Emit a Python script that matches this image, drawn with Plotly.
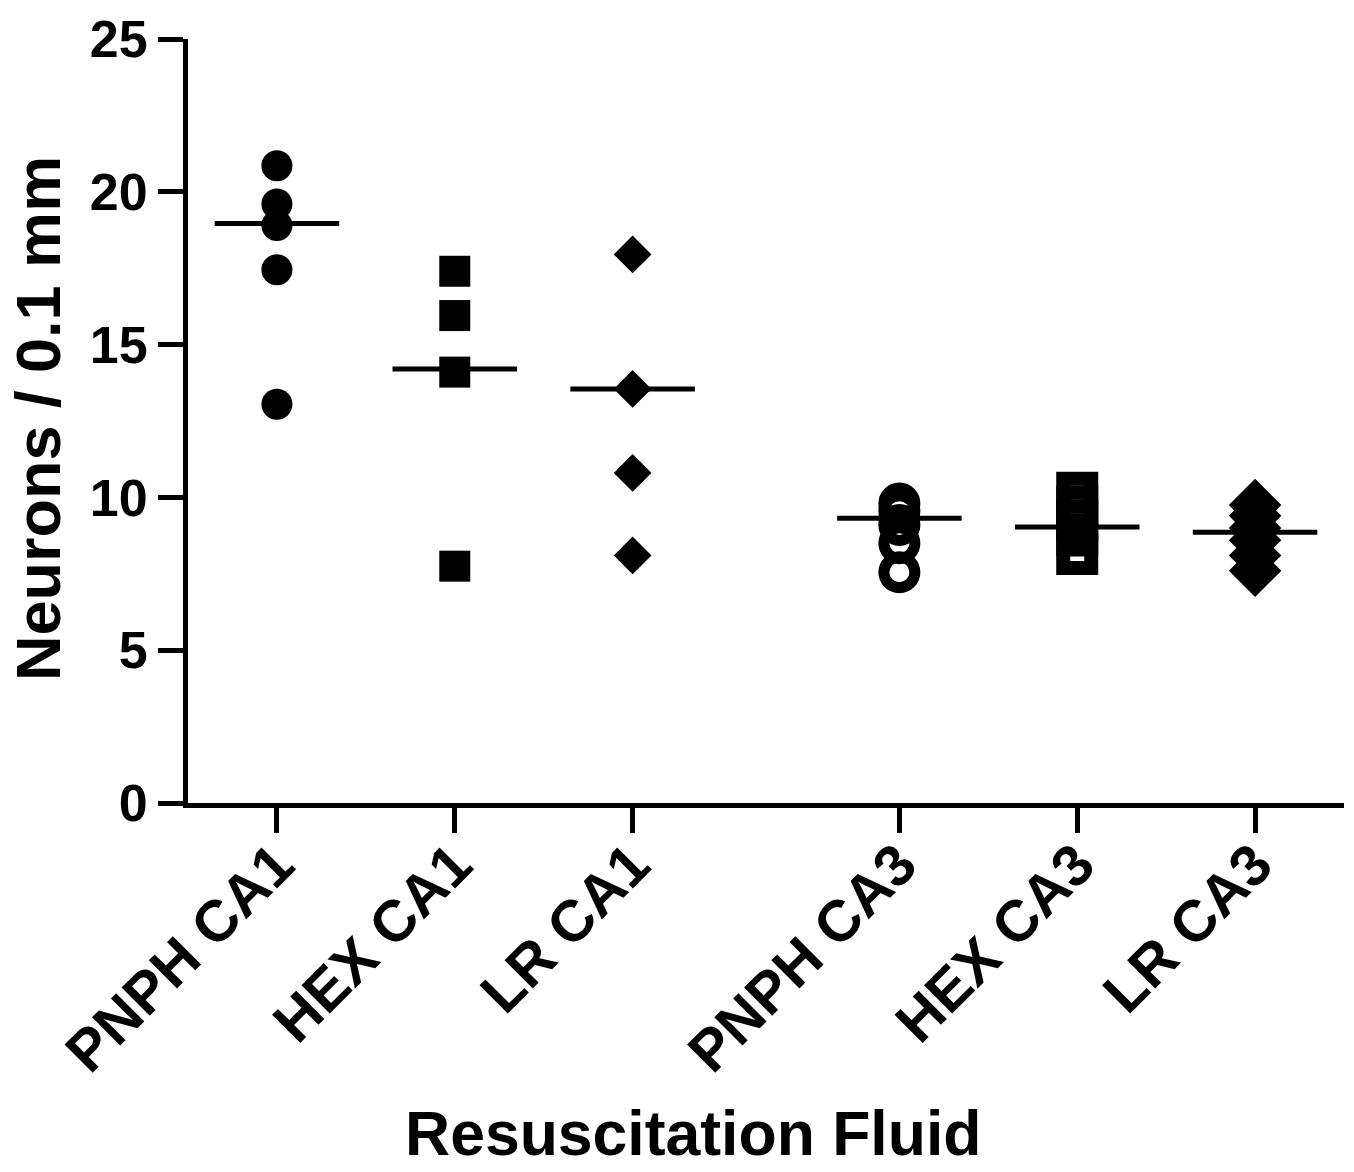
import plotly.graph_objects as go

# ---- data ----
categories = ["PNPH CA1", "HEX CA1", "LR CA1", "PNPH CA3", "HEX CA3", "LR CA3"]
pnph_ca1 = [20.85, 19.6, 18.9, 17.45, 13.05]
hex_ca1 = [17.4, 15.95, 14.1, 7.75]
lr_ca1 = [17.95, 13.55, 10.8, 8.1]
pnph_ca3 = [9.8, 9.55, 9.1, 8.5, 7.55]
hex_ca3 = [10.15, 9.7, 9.25, 8.75, 8.15]
lr_ca3 = [9.75, 9.4, 9.0, 8.6, 8.1, 7.6]
center_lines = [18.96, 14.2, 13.55, 9.32, 9.03, 8.86]
y_ticks = [0, 5, 10, 15, 20, 25]

series = [pnph_ca1, hex_ca1, lr_ca1, pnph_ca3, hex_ca3, lr_ca3]

# ---- layout / style ----
x_pos = [1, 2, 3, 4.5, 5.5, 6.5]
styles = [
    dict(symbol="circle", size=31, line=dict(width=0)),
    dict(symbol="square", size=31, line=dict(width=0)),
    dict(symbol="diamond", size=29, line=dict(width=0)),
    dict(symbol="circle-open", size=31, line=dict(width=11, color="black")),
    dict(symbol="square-open", size=28, line=dict(width=14, color="black")),
    dict(symbol="diamond-open", size=23, line=dict(width=16, color="black")),
]
half_w = 0.35
FONT = "Liberation Sans, Arial, sans-serif"

fig = go.Figure()
for xp, vals, st in zip(x_pos, series, styles):
    fig.add_trace(go.Scatter(
        x=[xp] * len(vals), y=vals, mode="markers",
        marker=dict(color="black", **st), showlegend=False, hoverinfo="y",
    ))
for xp, m in zip(x_pos, center_lines):
    fig.add_trace(go.Scatter(
        x=[xp - half_w, xp + half_w], y=[m, m], mode="lines",
        line=dict(color="black", width=5), showlegend=False, hoverinfo="y",
    ))

axis_common = dict(
    showgrid=False, zeroline=False, showline=True, linewidth=5, linecolor="black",
    ticks="outside", ticklen=25, tickwidth=5, tickcolor="black",
)
fig.update_layout(
    width=1354, height=1172,
    margin=dict(l=188, r=10, t=35, b=369, pad=0),
    paper_bgcolor="white", plot_bgcolor="white",
    font=dict(family=FONT, color="black", weight="bold"),
    xaxis=dict(range=[0.5, 7.0], tickvals=x_pos, ticktext=categories, tickangle=-45,
               ticklabelstandoff=-26,
               tickfont=dict(size=58, family=FONT, weight="bold"), **axis_common),
    yaxis=dict(range=[0, 25], tickvals=y_ticks,
               tickfont=dict(size=52, family=FONT, weight="bold"), **axis_common),
    annotations=[
        dict(text="Resuscitation Fluid", xref="paper", yref="paper",
             x=(693 - 188) / 1156, y=(803 - 1172) / 768,
             xanchor="center", yanchor="bottom", showarrow=False,
             font=dict(size=62.5, family=FONT, weight="bold", color="black")),
        dict(text="Neurons / 0.1 mm", xref="paper", yref="paper",
             x=(1 - 188) / 1156, y=(803 - 417) / 768,
             xanchor="left", yanchor="middle", textangle=-90, showarrow=False,
             font=dict(size=63, family=FONT, weight="bold", color="black")),
    ],
)
fig.write_html("out.html")
